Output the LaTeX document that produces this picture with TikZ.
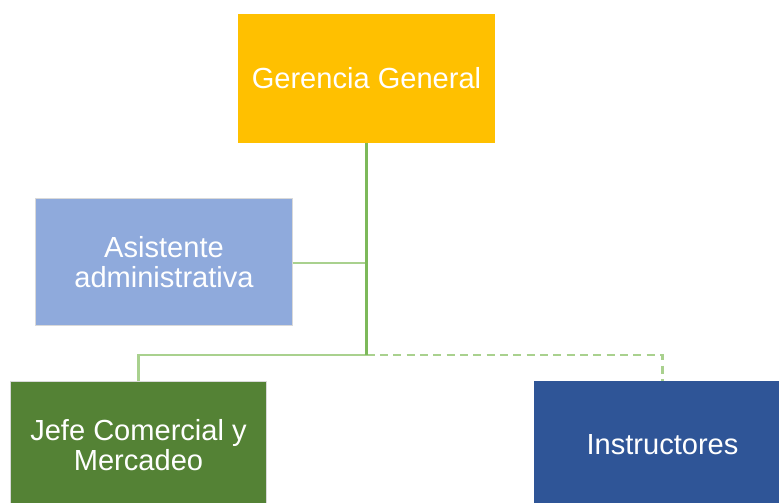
\documentclass[tikz,border=0pt]{standalone}
\usepackage{fontspec}
\setmainfont{Liberation Sans}
\usetikzlibrary{positioning, calc}
\definecolor{Gold}{RGB}{255, 192, 0}
\definecolor{SoftBlue}{RGB}{143, 170, 220}
\definecolor{Leaf}{RGB}{84, 130, 53}
\definecolor{Navy}{RGB}{47, 85, 151}
\definecolor{Branch}{RGB}{169, 209, 142}
\definecolor{Trunk}{RGB}{125, 185, 90}

\begin{document}
\begin{tikzpicture}[x=0.75pt, y=-0.75pt,
        box/.style={minimum width=192.5pt, minimum height=95.5pt, inner sep=0pt,
            align=center, text=white, draw=white!85!black, line width=0.6pt,
            font=\fontsize{21.8}{22.5}\selectfont},
        link/.style={draw=Branch, line width=1.6pt}]
            \clip (0,0) rectangle (779,503);
            \fill[white] (0,0) rectangle (779,503);

            \node[box, fill=Gold, draw=Gold] (gerencia) at (366.5, 78.5) {Gerencia General};
            \node[box, fill=SoftBlue] (asistente) at (164, 262) {Asistente\\administrativa};
            \node[box, fill=Leaf] (jefe) at (138.5, 445) {Jefe Comercial y\\Mercadeo};
            \node[box, fill=Navy, draw=Navy] (instructores) at (662.5, 445) {Instructores};

            \coordinate (split) at (366.5, 355);
            \coordinate (side) at (366.5, 263);

            \draw[link] (asistente.east |- side) -- (side);
            \draw[link] (split) -| (jefe.north);
            \draw[link, dashed, dash pattern=on 6pt off 4pt] (split) -| (instructores.north);
            \draw[link, draw=Trunk] (gerencia.south) -- (split);
        \end{tikzpicture}
\end{document}
